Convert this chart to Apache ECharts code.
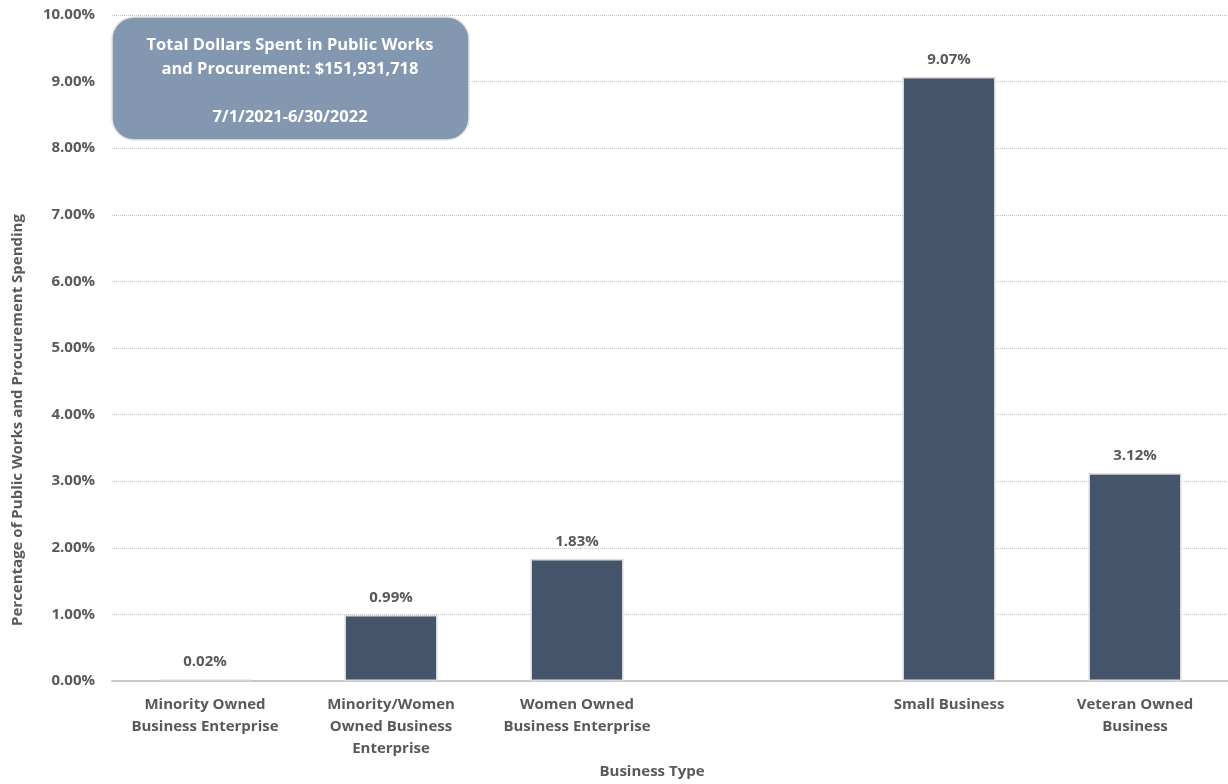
<!DOCTYPE html>
<html>
<head>
<meta charset="utf-8">
<script src="https://cdn.jsdelivr.net/npm/echarts@6/dist/echarts.min.js"></script>
<style>
  html,body{margin:0;padding:0;background:#fff;}
  #chart{width:1228px;height:784px;}
</style>
</head>
<body>
<div id="chart"></div>
<script>
// categories (blank slot between Women Owned and Small Business)
const categories = [
  'Minority Owned\nBusiness Enterprise',
  'Minority/Women\nOwned Business\nEnterprise',
  'Women Owned\nBusiness Enterprise',
  '',
  'Small Business',
  'Veteran Owned\nBusiness'
]
const percentValues = [0.02, 0.99, 1.83, '-', 9.07, 3.12]
const boxLines = ['Total Dollars Spent in Public Works', 'and Procurement: $151,931,718', '', '7/1/2021-6/30/2022']

const font = '"Open Sans", "Noto Sans", sans-serif'
const grey = '#595959'

const chart = echarts.init(document.getElementById('chart'))
chart.setOption({
  animation: false,
  textStyle: { fontFamily: font },
  grid: { left: 112, right: 0, top: 15, bottom: 103 },
  xAxis: {
    type: 'category',
    data: categories,
    axisTick: { show: false },
    axisLine: { lineStyle: { color: '#c8c8c8', width: 2 } },
    axisLabel: {
      interval: 0, color: grey, fontWeight: 'bold', fontSize: 15,
      lineHeight: 22, margin: 13, fontFamily: font
    }
  },
  yAxis: {
    type: 'value',
    min: 0, max: 10, interval: 1,
    axisLabel: {
      color: grey, fontWeight: 'bold', fontSize: 15, margin: 17, fontFamily: font,
      formatter: v => v.toFixed(2) + '%'
    },
    splitLine: { lineStyle: { color: '#c0c0c0', type: [1, 1], width: 1 } }
  },
  series: [{
    type: 'bar',
    data: percentValues,
    barWidth: '50%',
    itemStyle: { color: '#44546A', borderColor: '#d9d9d9', borderWidth: 1.5 },
    label: {
      show: true, position: 'top', distance: 10,
      color: grey, fontWeight: 'bold', fontSize: 15, fontFamily: font,
      formatter: p => p.value.toFixed(2) + '%'
    }
  }],
  graphic: [
    {
      type: 'rect',
      shape: { x: 112, y: 17, width: 357, height: 123, r: 22 },
      style: { fill: '#8497B0', stroke: '#e6e6e6', lineWidth: 1.5 },
      z: 10
    },
    {
      type: 'text',
      x: 290, y: 81,
      style: {
        text: boxLines.join('\n'),
        fill: '#ffffff', font: 'bold 16.5px ' + font,
        align: 'center', verticalAlign: 'middle', lineHeight: 24
      },
      z: 11
    },
    {
      type: 'text',
      x: 652, y: 772,
      style: {
        text: 'Business Type', fill: grey, font: 'bold 15px ' + font,
        align: 'center', verticalAlign: 'middle'
      }
    },
    {
      type: 'text',
      x: 18, y: 420, rotation: Math.PI / 2,
      style: {
        text: 'Percentage of Public Works and Procurement Spending', fill: grey,
        font: 'bold 15px ' + font, align: 'center', verticalAlign: 'middle'
      }
    }
  ]
})
</script>
</body>
</html>
